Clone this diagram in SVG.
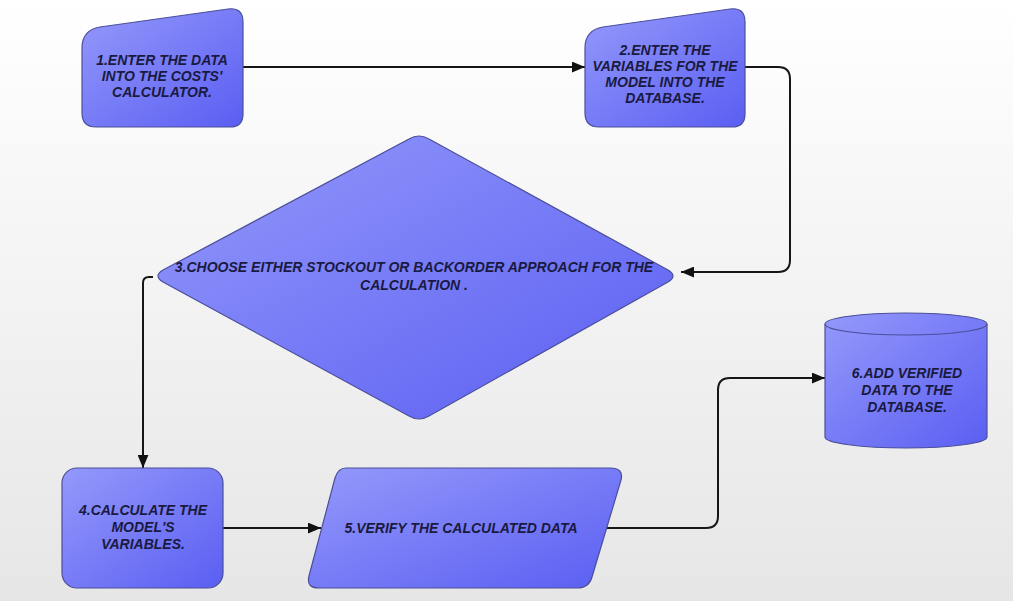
<svg xmlns="http://www.w3.org/2000/svg" width="1013" height="601" viewBox="0 0 1013 601">
<defs>
<linearGradient id="bg" x1="0" y1="0" x2="0" y2="1">
<stop offset="0" stop-color="#ffffff"/>
<stop offset="1" stop-color="#e6e6e6"/>
</linearGradient>
<linearGradient id="nf" x1="0" y1="0" x2="1" y2="1">
<stop offset="0" stop-color="#9499fb"/>
<stop offset="1" stop-color="#5a5ef2"/>
</linearGradient>
<marker id="ah" viewBox="0 0 12 10" refX="12" refY="5" markerWidth="13" markerHeight="11" markerUnits="userSpaceOnUse" orient="auto">
<path d="M0,0 L12,5 L0,10 z" fill="#111"/>
</marker>
<style>
.node{fill:url(#nf);stroke:#4b4f9a;stroke-width:1.2}
.lbl{font-family:"Liberation Sans",Arial,sans-serif;font-size:14px;font-weight:bold;font-style:italic;fill:#1a1a40;text-anchor:middle}
.con{fill:none;stroke:#161616;stroke-width:2;marker-end:url(#ah)}
</style>
</defs>
<rect x="0" y="0" width="1013" height="601" fill="url(#bg)"/>
<g id="connectors">
<path class="con" d="M243,67 L585,67"/>
<path class="con" d="M745,67 L778,67 Q790,67 790,79 L790,260 Q790,272 778,272 L681,272"/>
<path class="con" d="M153,277 L149,277 Q143,277 143,283 L143,468"/>
<path class="con" d="M223,528 L321,528"/>
<path class="con" d="M605,528 L706,528 Q718,528 718,516 L718,390 Q718,378 730,378 L825,378"/>
</g>
<g id="node1">
<path class="node" d="M82,48 Q82,30 100,27 L228,9 Q243,7 243,22 L243,114 Q243,127 230,127 L96,127 Q82,127 82,113 Z"/>
<text class="lbl" x="162" y="65">1.ENTER THE DATA</text>
<text class="lbl" x="162" y="81">INTO THE COSTS'</text>
<text class="lbl" x="162" y="97">CALCULATOR.</text>
</g>
<g id="node2">
<path class="node" d="M585,48 Q585,30 603,27 L730,9 Q745,7 745,22 L745,114 Q745,127 732,127 L599,127 Q585,127 585,113 Z"/>
<text class="lbl" x="665" y="55">2.ENTER THE</text>
<text class="lbl" x="665" y="71">VARIABLES FOR THE</text>
<text class="lbl" x="665" y="87">MODEL INTO THE</text>
<text class="lbl" x="665" y="103">DATABASE.</text>
</g>
<g id="node3">
<path class="node" d="M163,270 L409,139 Q419,133 429,139 L668,270 Q678,276 668,282 L429,416 Q419,422 409,416 L163,282 Q153,276 163,270 Z"/>
<text class="lbl" x="414" y="272">3.CHOOSE EITHER STOCKOUT OR BACKORDER APPROACH FOR THE</text>
<text class="lbl" x="414" y="290">CALCULATION .</text>
</g>
<g id="node4">
<rect class="node" x="62" y="468" width="161" height="120" rx="15" ry="15"/>
<text class="lbl" x="143" y="515">4.CALCULATE THE</text>
<text class="lbl" x="143" y="532">MODEL'S</text>
<text class="lbl" x="143" y="549">VARIABLES.</text>
</g>
<g id="node5">
<path class="node" d="M346,468 L610,468 Q624,468 621,480 L592,577 Q589,588 577,588 L319,588 Q306,588 309,576 L335,478 Q338,468 346,468 Z"/>
<text class="lbl" x="461" y="533">5.VERIFY THE CALCULATED DATA</text>
</g>
<g id="node6">
<path class="node" d="M825,324 A81,11 0 0 1 987,324 L987,437 A81,11 0 0 1 825,437 Z"/>
<path d="M825,324 A81,11 0 0 0 987,324" fill="none" stroke="#4b4f9a" stroke-width="1.2"/>
<text class="lbl" x="907" y="378">6.ADD VERIFIED</text>
<text class="lbl" x="907" y="395">DATA TO THE</text>
<text class="lbl" x="907" y="412">DATABASE.</text>
</g>
</svg>
